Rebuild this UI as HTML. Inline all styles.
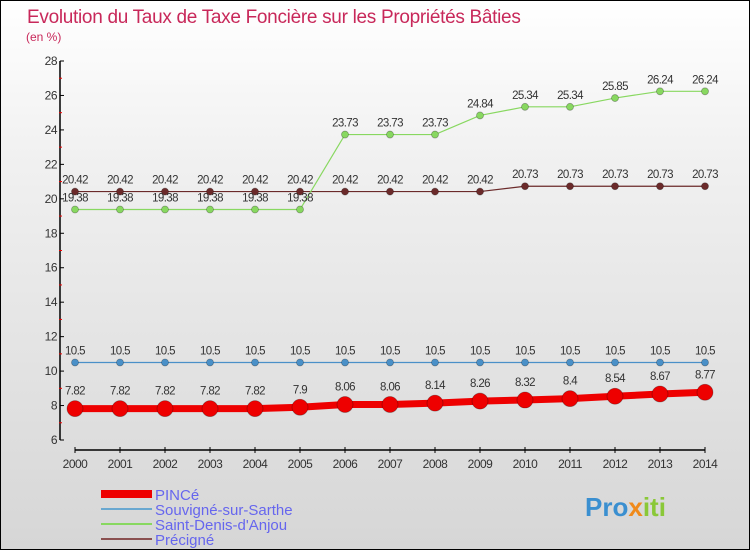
<!DOCTYPE html>
<html><head><meta charset="utf-8"><style>
body{margin:0}
#c{width:748px;height:548px;border:1px solid #000;background:linear-gradient(#fff,#f0f0f0 30%,#d6d6d6);position:relative;overflow:hidden;font-family:"Liberation Sans",sans-serif}
</style></head><body>
<div id="c">
<svg width="748" height="548" id="s"></svg>
</div>
<script>
const years=[2000,2001,2002,2003,2004,2005,2006,2007,2008,2009,2010,2011,2012,2013,2014];
const pince=[7.82,7.82,7.82,7.82,7.82,7.9,8.06,8.06,8.14,8.26,8.32,8.4,8.54,8.67,8.77];
const souvigne=[10.5,10.5,10.5,10.5,10.5,10.5,10.5,10.5,10.5,10.5,10.5,10.5,10.5,10.5,10.5];
const stdenis=[19.38,19.38,19.38,19.38,19.38,19.38,23.73,23.73,23.73,24.84,25.34,25.34,25.85,26.24,26.24];
const precigne=[20.42,20.42,20.42,20.42,20.42,20.42,20.42,20.42,20.42,20.42,20.73,20.73,20.73,20.73,20.73];
const yTicks=[6,8,10,12,14,16,18,20,22,24,26,28];
const NS="http://www.w3.org/2000/svg";
const svg=document.getElementById('s');
function X(i){return 74+i*45;}
function Y(v){return 439-(v-6)*(379/22);}
function el(t,a,txt){const e=document.createElementNS(NS,t);for(const k in a)e.setAttribute(k,a[k]);if(txt!==undefined)e.textContent=txt;svg.appendChild(e);return e;}
let e;
e=el('text',{x:26,y:22,'font-size':19,fill:'#c8285a','letter-spacing':'-0.3'},'Evolution du Taux de Taxe Foncière sur les Propriétés Bâties');


e=el('text',{x:25,y:40,'font-size':12,fill:'#c8285a'},'(en %)');


e=el('line',{x1:59,y1:Y(28),x2:59,y2:Y(6),stroke:'#000','stroke-width':1.5});


e=el('line',{x1:X(0),y1:449,x2:X(14),y2:449,stroke:'#000','stroke-width':1.5});


yTicks.forEach(v=>{
 e=el('line',{x1:59,y1:Y(v),x2:63,y2:Y(v),stroke:'#000'});
 
 
 e=el('text',{x:56,y:Y(v)+4,'font-size':12,fill:'#333','text-anchor':'end','letter-spacing':'-0.5'},v);
 
 
 if(v<28){e=el('line',{x1:58,y1:Y(v+1),x2:61,y2:Y(v+1),stroke:'#e00'});
 
 }
});
years.forEach((yr,i)=>{
 e=el('line',{x1:X(i),y1:446,x2:X(i),y2:452,stroke:'#000'});
 
 
 e=el('text',{x:X(i),y:467,'font-size':12,fill:'#333','text-anchor':'middle','letter-spacing':'-0.5'},yr);
 
 
});
function series(vals,color,w,r,name,labelOff){
 const pts=vals.map((v,i)=>X(i)+','+Y(v)).join(' ');
 e=el('polyline',{points:pts,fill:'none',stroke:color,'stroke-width':w});
 
 
 vals.forEach((v,i)=>{
  e=el('circle',{cx:X(i),cy:Y(v),r:r,fill:color,stroke:'rgba(0,0,0,0.3)','stroke-width':0.8});
  
  
  e=el('text',{x:X(i),y:Y(v)+labelOff,'font-size':11.5,fill:'#333','text-anchor':'middle','letter-spacing':'-0.6'},v);
  
  
 });
}
series(precigne,'#6b2a2a',1.2,3.5,'precigne',-8);
series(stdenis,'#88d860',1.2,3.5,'saint-denis',-8);
series(souvigne,'#4a90c8',1.2,3.5,'souvigne',-8);
series(pince,'#ee0000',7,8,'pince',-14);
const legend=[['PINCé','#ee0000',8],['Souvigné-sur-Sarthe','#6aa8d0',2],['Saint-Denis-d\'Anjou','#88d860',2],['Précigné','#8a5050',2]];
legend.forEach((l,i)=>{
 const y=493+i*15;
 e=el('line',{x1:100,y1:y,x2:151,y2:y,stroke:l[1],'stroke-width':l[2]});
 
 
 e=el('text',{x:154,y:y+6,'font-size':15,fill:'#6666ee'},l[0]);
 
 
});
e=el('text',{x:584,y:515,'font-size':26,'font-weight':'bold',fill:'#3a8fd0'});
e.innerHTML='Pro<tspan fill="#f08a1a">x</tspan><tspan fill="#8ac838">iti</tspan>';


</script>
</body></html>
